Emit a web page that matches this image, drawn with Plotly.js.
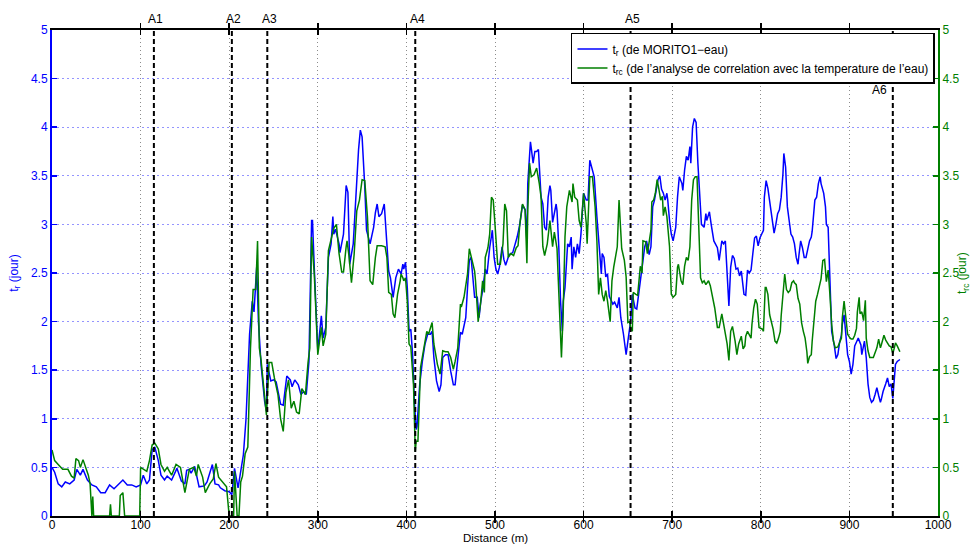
<!DOCTYPE html>
<html>
<head>
<meta charset="utf-8">
<script src="https://cdn.plot.ly/plotly-3.0.1.min.js"></script>
<style>html,body{margin:0;padding:0;background:#fff;}#chart{width:970px;height:546px;}</style>
</head>
<body>
<div id="chart"></div>
<script>
// ---- data ----
const distR = [0,3,7,11,15,20,25,28,32,35,40,45,50,55,60,65,70,75,80,85,90,95,100,103,107,110,113,116,120,123,127,130,135,141,146,150,152,155,157,161,166,172,175,181,184,188,190,195,200,203,206,210,213,216,219,223,226,228,231,233,236,240,242,243,247,250,253,258,261,265,269,271,274,278,281,284,287,290,293,294,296,300,304,306,309,312,315,317,318,320,324,325,329,332,334,336,340,344,346,348,350,353,355,359,363,365,367,369,372,375,378,380,382,385,388,391,394,396,397,399,401,403,405,407,409,411,412,415,418,421,424,427,429,431,434,437,439,441,444,447,450,453,455,458,461,463,467,469,471,473,475,477,480,482,484,486,489,491,494,497,499,501,503,505,508,510,512,516,520,523,525,528,531,534,536,537,540,541,543,545,547,549,551,552,554,556,558,560,562,563,565,567,569,570,572,574,576,577,579,582,584,586,587,589,591,593,595,597,600,603,605,607,609,612,615,618,620,621,623,625,627,629,631,633,635,638,640,642,645,648,650,653,655,658,660,663,665,667,669,671,674,676,678,680,682,684,686,688,690,692,694,695,697,699,701,704,706,708,711,712,714,716,718,720,721,723,725,727,729,731,733,736,738,739,742,744,747,751,753,756,758,760,762,764,766,768,770,772,774,776,778,781,783,785,787,789,791,793,795,797,799,801,803,804,806,808,809,811,813,815,817,819,821,823,825,826,828,830,832,834,836,838,840,842,843,845,847,849,851,853,855,857,858,861,863,865,867,868,871,873,874,876,878,880,883,885,887,889,891,892,894,896,898,900,902,904,906,908,910,913,914,917,919,921,923,925,927,929,931,933,935,936,938,941,943,945,947,949,951,952,954,957];
const tr = [0.50,0.45,0.33,0.30,0.35,0.33,0.37,0.48,0.42,0.48,0.37,0.32,0.30,0.24,0.24,0.32,0.28,0.33,0.37,0.32,0.32,0.30,0.32,0.42,0.33,0.37,0.68,0.71,0.57,0.42,0.37,0.41,0.37,0.49,0.36,0.33,0.47,0.48,0.44,0.51,0.30,0.31,0.35,0.53,0.33,0.32,0.29,0.26,0.25,0.22,0.49,0.29,0.45,0.63,1.00,1.87,2.21,2.10,2.56,2.00,1.55,1.18,1.08,1.56,1.39,1.40,1.38,1.15,1.14,1.44,1.40,1.33,1.40,1.35,1.25,1.28,1.25,1.59,3.04,3.04,2.56,1.70,2.06,1.83,1.94,2.66,2.80,3.08,2.90,2.95,2.80,2.71,2.90,3.40,3.33,2.59,2.80,3.52,3.77,3.97,3.90,3.39,2.94,2.80,2.97,3.12,3.21,3.08,3.11,3.21,2.83,2.52,2.45,2.25,2.45,2.54,2.49,2.59,2.54,2.61,2.35,1.90,1.92,1.66,1.18,0.89,0.92,1.35,1.59,1.77,1.87,1.87,1.90,1.63,1.39,1.28,1.35,1.63,1.66,1.66,1.49,1.35,1.35,1.59,1.89,1.87,2.04,2.35,2.63,2.66,2.49,2.25,2.25,2.04,2.21,2.32,2.54,2.49,2.76,2.94,2.66,2.54,2.49,2.56,2.77,2.64,2.58,2.69,2.71,2.80,2.87,3.00,3.20,3.15,2.83,3.42,3.85,3.78,3.63,3.75,3.75,3.77,3.49,3.28,3.21,2.97,2.94,3.28,3.40,3.35,3.02,3.11,3.21,3.14,2.77,2.21,1.90,2.21,2.35,2.80,2.77,2.87,2.54,2.77,2.66,2.80,2.70,2.90,3.32,3.25,3.25,3.66,3.59,3.49,3.08,2.66,2.49,2.70,2.66,2.46,2.49,2.26,2.21,2.18,2.20,2.14,2.25,2.04,1.87,1.66,1.80,2.00,2.28,2.14,2.13,2.35,2.49,2.63,2.77,2.83,2.69,2.77,3.18,3.25,3.35,3.46,3.50,3.36,3.32,3.25,3.32,3.25,3.04,2.90,2.83,2.97,3.28,3.49,3.42,3.35,3.56,3.70,3.66,3.80,3.63,4.00,4.09,4.05,3.63,3.25,3.00,2.97,3.11,3.04,3.13,3.00,2.83,2.76,2.63,2.83,2.80,2.83,2.49,2.16,2.56,2.68,2.65,2.54,2.55,2.47,2.52,2.28,2.27,2.53,2.50,2.53,2.70,2.86,2.88,2.78,2.86,2.91,2.94,3.28,3.45,3.37,3.30,3.18,3.04,2.91,3.00,3.11,3.15,3.28,3.52,3.73,3.59,3.18,3.04,2.90,2.87,2.80,2.66,2.59,2.68,2.83,2.76,2.66,2.66,2.76,2.83,2.87,2.93,3.25,3.28,3.42,3.49,3.42,3.32,3.18,3.00,2.97,2.39,1.90,1.75,1.62,1.66,1.79,1.86,1.97,2.07,1.90,1.66,1.59,1.46,1.56,1.75,1.79,1.83,1.76,1.66,1.80,1.63,1.36,1.22,1.17,1.19,1.25,1.32,1.24,1.17,1.20,1.28,1.36,1.42,1.33,1.36,1.21,1.43,1.56,1.59,1.61];

const distRC = [0,3,7,12,18,22,25,27,30,32,35,38,41,43,45,46,47,65,66,67,76,77,80,82,99,100,103,107,110,113,116,120,123,127,130,135,140,145,150,155,160,163,165,170,173,178,182,185,188,192,197,200,205,206,209,211,213,215,218,221,224,227,230,232,234,236,239,242,245,248,251,255,258,261,264,267,270,273,276,279,282,286,289,291,293,296,300,304,306,309,312,317,318,321,324,327,329,332,333,335,338,341,344,347,350,353,356,359,362,365,367,372,376,378,380,383,385,387,390,393,394,396,397,399,401,403,405,408,410,411,413,416,420,423,425,427,429,431,435,438,440,441,444,447,450,453,455,458,461,462,465,467,469,471,474,477,478,481,484,486,488,489,492,494,496,498,500,503,506,509,511,513,515,518,521,524,526,528,531,534,536,537,539,541,544,547,550,552,554,556,559,562,565,567,570,573,575,577,579,581,584,587,588,590,593,595,597,600,603,604,607,610,613,615,617,619,621,623,625,627,630,632,634,638,640,643,646,648,650,652,653,655,656,659,661,664,666,667,670,672,674,676,677,679,681,683,685,687,689,690,692,694,697,699,701,704,706,707,710,712,714,716,718,720,722,724,726,728,730,732,734,736,738,741,743,746,748,751,753,756,758,760,762,764,766,768,770,771,773,775,778,780,782,783,785,787,789,790,792,794,796,798,800,802,803,805,806,808,810,812,814,816,818,820,822,823,825,827,829,831,833,835,837,838,840,842,844,846,848,850,852,853,855,857,858,860,862,864,866,868,870,872,874,876,878,880,882,884,887,889,891,892,894,896,898,900,902,904,906,908,909,911,912,914,916,918,919,921,923,927,931,933,935,936,939,941,943,945,947,949,951,952,954,957];
const trc = [0.68,0.57,0.53,0.48,0.48,0.41,0.39,0.59,0.57,0.50,0.58,0.50,0.42,0.33,0,0.20,0,0,0.12,0,0,0.21,0.24,0,0,0.50,0.48,0.46,0.57,0.73,0.75,0.69,0.53,0.46,0.50,0.42,0.53,0.50,0.24,0.48,0.50,0.41,0.53,0.40,0.24,0.33,0.38,0.54,0.40,0.35,0.30,0,0,0.46,0,0,0.35,0.41,0.64,0.71,1.72,2.33,2.33,2.83,1.73,1.60,1.30,1.04,1.58,1.58,1.42,1.25,1.00,0.87,1.27,1.40,1.11,1.18,1.07,1.05,1.31,1.25,1.58,1.73,2.87,2.49,1.66,1.94,1.75,1.87,2.73,2.90,2.96,3.00,2.70,2.51,2.51,2.77,2.83,2.69,2.40,2.69,3.14,3.25,3.46,3.45,3.08,2.42,2.38,2.66,2.78,2.78,2.77,2.66,2.30,2.28,2.08,2.04,2.28,2.42,2.49,2.45,2.42,2.45,2.21,1.77,1.74,1.35,0.66,0.77,0.77,1.53,1.77,1.90,1.87,1.94,1.99,1.77,1.56,1.46,1.66,1.70,1.69,1.69,1.63,1.51,1.59,1.73,2.18,2.15,2.25,2.35,2.49,2.75,2.63,2.52,2.42,2.00,2.21,2.42,2.30,2.66,2.76,2.90,3.28,3.25,3.00,2.59,2.59,2.80,3.21,3.14,2.66,2.70,2.68,2.76,2.78,3.00,3.21,3.15,2.60,3.15,3.63,3.49,3.51,3.58,3.42,3.28,2.77,2.68,2.80,3.04,2.77,2.92,2.75,2.04,1.63,2.11,2.87,3.18,3.35,3.23,3.42,3.28,3.25,3.04,2.97,3.32,3.01,2.80,3.49,3.49,3.18,2.83,2.28,2.45,2.28,2.21,2.32,2.21,2.00,2.42,2.56,2.77,3.25,2.75,2.63,2.46,1.99,2.00,1.94,1.90,2.30,2.28,2.27,2.57,2.50,2.83,2.82,2.70,2.80,2.94,3.23,3.25,3.32,3.46,3.36,3.25,3.29,3.09,3.18,3.08,2.77,2.28,2.25,2.28,2.56,2.59,2.42,2.38,2.57,2.66,2.63,2.77,3.25,3.46,3.49,3.49,2.97,2.45,2.40,2.42,2.38,2.42,2.37,2.23,2.14,1.94,1.94,2.08,1.97,1.90,1.77,1.60,1.90,1.95,1.87,1.80,1.66,1.77,1.85,1.72,1.75,1.85,1.90,1.87,1.83,1.97,2.14,2.23,2.18,1.94,1.93,1.92,1.90,2.35,2.35,2.28,2.07,2.00,1.92,1.80,1.78,1.83,1.90,2.06,2.28,2.49,2.33,2.30,2.32,2.40,2.42,2.40,2.38,2.24,2.18,1.99,1.90,1.83,1.69,1.57,1.64,1.66,1.80,1.97,2.21,2.28,2.36,2.44,2.63,2.64,2.41,2.53,2.28,1.97,1.80,1.73,1.74,1.79,1.83,2.04,2.21,2.04,1.87,1.84,1.82,1.82,1.86,1.93,2.10,2.25,2.08,2.10,2.01,2.22,1.83,1.70,1.63,1.63,1.73,1.82,1.73,1.76,1.86,1.81,1.78,1.75,1.74,1.67,1.74,1.78,1.75,1.69];

const siteDist = [115, 203, 243, 410, 653, 949];
const siteLabels = ['A1', 'A2', 'A3', 'A4', 'A5', 'A6'];
const xTicks = [0,100,200,300,400,500,600,700,800,900,1000];
const yTicks = [0,0.5,1,1.5,2,2.5,3,3.5,4,4.5,5];

const nameR = 't<sub>r</sub> (de MORITO1\u2212eau)';
const nameRC = 't<sub>rc</sub> (de l\u2019analyse de correlation avec la temperature de l\u2019eau)';

// ---- styles ----
const BLUE = '#0000ff';
const GREEN = '#007f00';
const FONT = 'Liberation Sans, Arial, Helvetica, sans-serif';

const traces = [
  {x: distR, y: tr, type: 'scatter', mode: 'lines', name: nameR,
   line: {color: BLUE, width: 1.5}, yaxis: 'y'},
  {x: distRC, y: trc, type: 'scatter', mode: 'lines', name: nameRC,
   line: {color: GREEN, width: 1.5}, yaxis: 'y2'}
];

const shapes = siteDist.map(d => ({
  type: 'line', xref: 'x', yref: 'paper', x0: d, x1: d, y0: 0, y1: 1,
  line: {color: '#000', width: 2, dash: '5px,3px'}, layer: 'above'
}));

const annotations = siteDist.map((d, i) => {
  const last = i === siteDist.length - 1;
  return {
    x: d, y: last ? 0.877 : 1.0, xref: 'x', yref: 'paper',
    text: siteLabels[i], showarrow: false,
    xanchor: last ? 'right' : 'center', yanchor: last ? 'middle' : 'bottom',
    xshift: last ? -4 : 2, yshift: last ? 0 : 2,
    font: {family: FONT, size: 12, color: '#000'}
  };
});
// right axis title (placed as text beside the green axis)
annotations.push({
  x: 1.0, xref: 'paper', xshift: 25, y: 0.5, yref: 'paper',
  text: 't<sub>rc</sub> (jour)', textangle: -90, showarrow: false,
  xanchor: 'center', yanchor: 'middle',
  font: {family: FONT, size: 12, color: GREEN}
});
// x axis title
annotations.push({
  x: 0.5, xref: 'paper', y: 0, yref: 'paper', yshift: -14,
  text: 'Distance (m)', showarrow: false,
  xanchor: 'center', yanchor: 'top',
  font: {family: FONT, size: 11.5, color: '#000'}
});

const layout = {
  width: 970, height: 546,
  margin: {l: 52, r: 32, t: 30, b: 30, pad: 0},
  paper_bgcolor: '#fff', plot_bgcolor: '#fff',
  font: {family: FONT, size: 12, color: '#000'},
  showlegend: true,
  legend: {
    x: 0.9966, y: 0.994, xanchor: 'right', yanchor: 'top',
    bgcolor: '#fff', bordercolor: '#000', borderwidth: 1.5,
    font: {family: FONT, size: 12, color: '#000'},
    itemwidth: 30, tracegroupgap: 0
  },
  xaxis: {
    range: [0, 1000], tickvals: xTicks, ticktext: xTicks.map(String),
    showline: true, linecolor: '#000', linewidth: 2, mirror: 'allticks',
    ticks: 'inside', ticklen: 5, tickcolor: '#000', tickwidth: 1.5,
    ticklabelstandoff: -3,
    showgrid: true, gridcolor: 'rgba(0,0,0,0.45)', griddash: '1px,3px', gridwidth: 1,
    zeroline: false,
    tickfont: {family: FONT, size: 12, color: '#000'}
  },
  yaxis: {
    range: [0, 5], tickvals: yTicks, ticktext: yTicks.map(String),
    showline: true, linecolor: BLUE, linewidth: 2,
    ticks: 'inside', ticklen: 5, tickcolor: BLUE, tickwidth: 1.5,
    showgrid: true, gridcolor: 'rgba(60,60,255,0.55)', griddash: '2px,3px', gridwidth: 1,
    zeroline: false,
    tickfont: {family: FONT, size: 12, color: BLUE},
    title: {text: 't<sub>r</sub> (jour)', standoff: 10, font: {family: FONT, size: 12, color: BLUE}}
  },
  yaxis2: {
    range: [0, 5], tickvals: yTicks, ticktext: yTicks.map(String),
    overlaying: 'y', side: 'right',
    showline: true, linecolor: GREEN, linewidth: 2,
    ticks: 'inside', ticklen: 5, tickcolor: GREEN, tickwidth: 1.5,
    showgrid: false, zeroline: false,
    tickfont: {family: FONT, size: 12, color: GREEN}
  },
  shapes: shapes,
  annotations: annotations
};

Plotly.newPlot('chart', traces, layout, {staticPlot: true, displayModeBar: false});
</script>
</body>
</html>
